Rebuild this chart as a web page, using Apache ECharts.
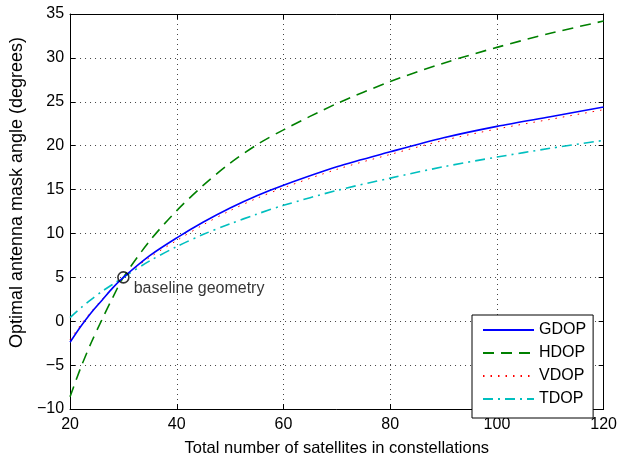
<!DOCTYPE html>
<html>
<head>
    <meta charset="utf-8">
    <title>Optimal antenna mask angle</title>
    <script src="https://cdn.jsdelivr.net/npm/echarts@6/dist/echarts.min.js"></script>
</head>
<body style="margin:0;background:#fff;">
<div id="main" style="width:620px;height:462px;"></div>
<script type="text/javascript">
    // values
    var sats = [20, 22, 24, 26, 28, 30, 35, 40, 45, 50, 55, 60, 70, 80, 90, 100, 110, 120];
    var gdop = [-2.4, -0.6, 1.0, 2.4, 3.8, 5.0, 7.5, 9.5, 11.3, 12.9, 14.3, 15.5, 17.6, 19.3, 20.9, 22.2, 23.3, 24.4];
    var hdop = [-8.6, -5.3, -2.4, 0.2, 2.7, 5.0, 9.2, 12.6, 15.5, 18.0, 20.1, 21.8, 24.8, 27.3, 29.4, 31.2, 32.8, 34.2];
    var vdop = [-2.1, -0.4, 1.1, 2.5, 3.8, 5.0, 7.3, 9.2, 11.0, 12.6, 14.0, 15.2, 17.3, 19.0, 20.6, 21.9, 23.0, 24.1];
    var tdop = [0.4, 1.5, 2.5, 3.4, 4.2, 5.0, 6.9, 8.5, 9.9, 11.1, 12.2, 13.2, 14.9, 16.3, 17.6, 18.7, 19.7, 20.6];
    var baseline = [30, 5];
    var xTicks = [20, 40, 60, 80, 100, 120];
    var yTicks = [-10, -5, 0, 5, 10, 15, 20, 25, 30, 35];

    function pairs(ys) {
        return sats.map(function (x, i) { return [x, ys[i]]; });
    }

    var font = 'Liberation Sans, Arial, Helvetica, sans-serif';
    var gridLine = {show: true, lineStyle: {color: '#444', type: [1, 4], width: 1}};
    var tick = {show: true, inside: true, length: 5, lineStyle: {color: '#000'}};

    function xAx(pos, labels) {
        return {
            type: 'value', position: pos, min: xTicks[0], max: xTicks[xTicks.length - 1], interval: 20,
            axisLine: {show: true, onZero: false, lineStyle: {color: '#000', width: 1}},
            axisTick: tick,
            axisLabel: {show: labels, color: '#000', fontSize: 16, fontFamily: font, margin: 8},
            splitLine: labels ? gridLine : {show: false}
        };
    }
    function yAx(pos, labels) {
        return {
            type: 'value', position: pos, min: yTicks[0], max: yTicks[yTicks.length - 1], interval: 5,
            axisLine: {show: true, onZero: false, lineStyle: {color: '#000', width: 1}},
            axisTick: tick,
            axisLabel: {show: labels, color: '#000', fontSize: 16, fontFamily: font, margin: 6,
                formatter: function (v) { return String(v).replace('-', '\u2212'); }},
            splitLine: labels ? gridLine : {show: false}
        };
    }

    var xBottom = xAx('bottom', true);
    xBottom.name = 'Total number of satellites in constellations';
    xBottom.nameLocation = 'middle';
    xBottom.nameGap = 31;
    xBottom.nameTextStyle = {color: '#000', fontSize: 16.5, fontFamily: font};

    var yLeft = yAx('left', true);
    yLeft.name = 'Optimal antenna mask angle (degrees)';
    yLeft.nameLocation = 'middle';
    yLeft.nameGap = 31;
    yLeft.nameTextStyle = {color: '#000', fontSize: 18, fontFamily: font, padding: [0, 0, 0, 38]};

    var myChart = echarts.init(document.getElementById('main'));
    myChart.setOption({
        animation: false,
        backgroundColor: '#fff',
        grid: {left: 70, right: 16, top: 14, bottom: 48},
        xAxis: [xBottom, xAx('top', false)],
        yAxis: [yLeft, yAx('right', false)],
        legend: {
            orient: 'vertical', left: 472, top: 315,
            backgroundColor: '#fff', borderColor: '#000', borderWidth: 1,
            padding: [7, 7, 11, 10], itemGap: 7, itemWidth: 51, itemHeight: 14,
            itemStyle: {opacity: 0},
            textStyle: {color: '#000', fontSize: 16, fontFamily: font},
            data: ['GDOP', 'HDOP', 'VDOP', 'TDOP']
        },
        series: [
            {name: 'GDOP', type: 'line', symbol: 'none', data: pairs(gdop), smooth: 0.3,
                lineStyle: {color: '#0000ff', width: 1.6}, itemStyle: {color: '#0000ff'}, z: 4},
            {name: 'HDOP', type: 'line', symbol: 'none', data: pairs(hdop), smooth: 0.3,
                lineStyle: {color: '#008000', width: 1.6, type: [11, 7]}, itemStyle: {color: '#008000'}},
            {name: 'VDOP', type: 'line', symbol: 'none', data: pairs(vdop), smooth: 0.3,
                lineStyle: {color: '#ff0000', width: 1, type: [1.5, 6]}, itemStyle: {color: '#ff0000'}, z: 3},
            {name: 'TDOP', type: 'line', symbol: 'none', data: pairs(tdop), smooth: 0.3,
                lineStyle: {color: '#00bfbf', width: 1.6, type: [10, 5, 2, 5]}, itemStyle: {color: '#00bfbf'}},
            {name: 'baseline', type: 'scatter', data: [baseline], symbol: 'circle', symbolSize: 11, z: 5,
                itemStyle: {color: 'rgba(0,0,0,0)', borderColor: '#000', borderWidth: 1.6},
                label: {show: true, position: 'right', distance: 4, offset: [0, 11],
                    formatter: 'baseline geometry', color: '#000', fontSize: 16, fontFamily: font}}
        ]
    });
</script>
</body>
</html>
